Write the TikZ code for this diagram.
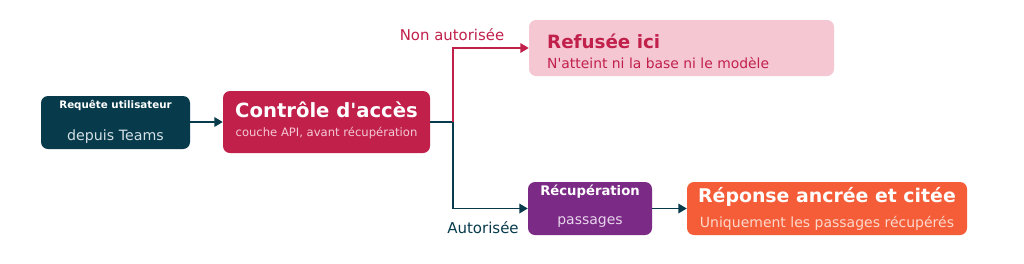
\documentclass[tikz,border=0pt]{standalone}
\usepackage{fontspec}
\setmainfont{DejaVu Sans}
\usetikzlibrary{arrows.meta}
\definecolor{cteal}{HTML}{073B4C}
\definecolor{ccrim}{HTML}{C1204B}
\definecolor{cpink}{HTML}{F4C7D3}
\definecolor{cpurp}{HTML}{7B2A86}
\definecolor{corng}{HTML}{F45D37}
\definecolor{tteal}{HTML}{D3E0E5}
\definecolor{tcrim}{HTML}{F4C9D4}
\definecolor{tpurp}{HTML}{E8D5EC}
\definecolor{torng}{HTML}{FDD8CC}
\newcommand{\fsz}[1]{\fontsize{#1}{#1}\selectfont}
\tikzset{
  box/.style={rounded corners=7pt, inner sep=0pt, minimum height=#1},
  conn/.style={line width=1.8pt, -{Triangle[length=8.5pt,width=9.5pt]}},
  seg/.style={line width=1.8pt},
}
\begin{document}
\begin{tikzpicture}[x=1pt,y=-1pt]
\useasboundingbox[fill=white] (0,0) rectangle (1024,263);
% boxes
\node[box=53pt, fill=cteal, minimum width=149pt] (req) at (115.5,122.5) {};
\node[box=62pt, fill=ccrim, minimum width=207pt] (ctl) at (326.5,122) {};
\node[box=56pt, fill=cpink, minimum width=305pt] (ref) at (681.5,48) {};
\node[box=53pt, fill=cpurp, minimum width=124pt] (rec) at (590,208.5) {};
\node[box=53pt, fill=corng, minimum width=280pt] (rep) at (827,208.5) {};
% texts
\node[text=white, font=\bfseries\fsz{10.3}] (reqt) at (115.5,105) {Requête utilisateur};
\node[text=tteal, font=\fsz{14.2}] (reqs) at (115.5,136.5) {depuis Teams};
\node[text=white, font=\bfseries\fsz{19.6}] (ctlt) at (326.5,109.5) {Contrôle d\textquotesingle accès};
\node[text=tcrim, font=\fsz{11.6}] (ctls) at (326.5,133.5) {couche API, avant récupération};
\node[text=ccrim, font=\bfseries\fsz{18.3}, anchor=west, inner xsep=0pt] (reft) at (547,41.5) {Refusée ici};
\node[text=ccrim, font=\fsz{13.9}, anchor=west, inner xsep=0pt] (refs) at (547,63.5) {N\textquotesingle atteint ni la base ni le modèle};
\node[text=white, font=\bfseries\fsz{13.2}] (rect) at (590,191.5) {Récupération};
\node[text=tpurp, font=\fsz{14}] (recs) at (590,222) {passages};
\node[text=white, font=\bfseries\fsz{18.9}] (rept) at (827,196.5) {Réponse ancrée et citée};
\node[text=torng, font=\fsz{14}] (reps) at (827,223) {Uniquement les passages récupérés};
\node[text=ccrim, font=\fsz{14.9}] (lno) at (452,34.5) {Non autorisée};
\node[text=cteal, font=\fsz{15}] (lyes) at (483,227.5) {Autorisée};
% connectors
\coordinate (split) at (453,122);
\draw[conn, cteal] (req.east |- 0,122) -- (ctl.west |- 0,122);
\draw[seg, cteal] (ctl.east |- split) -- (split);
\draw[conn, ccrim] (split) -- (split |- ref.west) -- (ref.west);
\draw[conn, cteal] (split) -- (split |- rec.west) -- (rec.west);
\draw[conn, cteal] (rec.east) -- (rep.west);
\end{tikzpicture}
\end{document}
